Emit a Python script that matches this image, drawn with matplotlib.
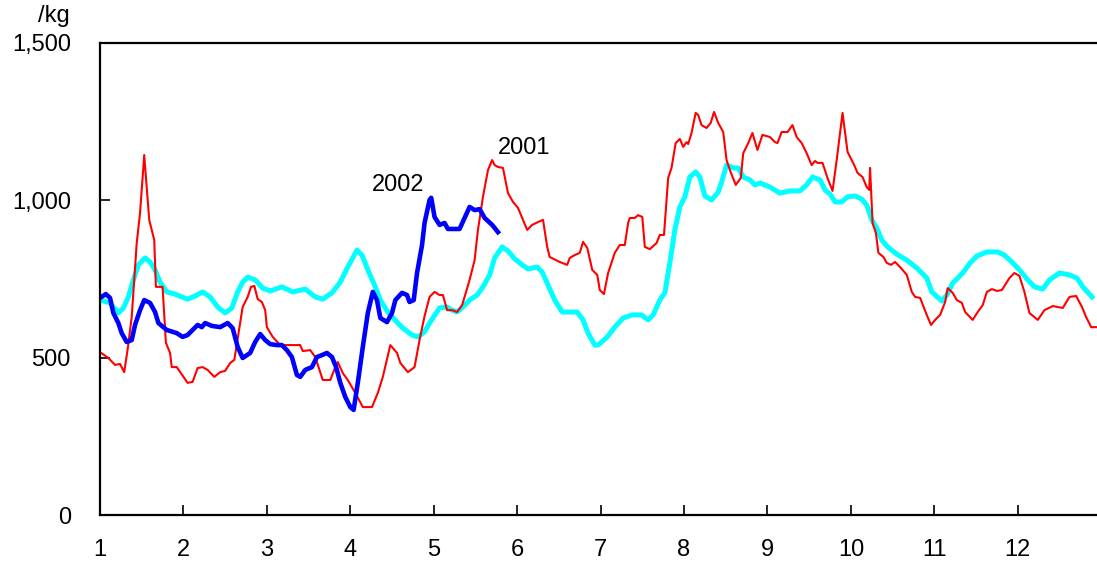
import numpy as np
import matplotlib.pyplot as plt

plt.rcParams['font.family'] = ['Liberation Sans', 'DejaVu Sans']

# month position (1 = start of Jan) and price per kg
m2001 = [1.02, 1.10, 1.18, 1.24, 1.29, 1.33, 1.38, 1.44, 1.48, 1.53, 1.59, 1.65, 1.67, 1.75,
         1.79, 1.84, 1.86, 1.92, 2.05, 2.11, 2.17, 2.23, 2.29, 2.37, 2.44, 2.50, 2.56, 2.61,
         2.71, 2.77, 2.81, 2.85, 2.89, 2.94, 2.98, 3.00, 3.07, 3.16, 3.40, 3.43, 3.52, 3.58,
         3.67, 3.76, 3.82, 3.85, 3.91, 3.97, 4.06, 4.15, 4.26, 4.33, 4.39, 4.48, 4.56, 4.60,
         4.69, 4.77, 4.83, 4.89, 4.95, 5.01, 5.07, 5.11, 5.16, 5.22, 5.28, 5.34, 5.37, 5.43,
         5.49, 5.53, 5.59, 5.65, 5.70, 5.73, 5.77, 5.83, 5.89, 5.95, 6.01, 6.07, 6.12, 6.18,
         6.25, 6.31, 6.36, 6.39, 6.51, 6.60, 6.63, 6.69, 6.75, 6.79, 6.84, 6.90, 6.96, 6.99,
         7.04, 7.09, 7.17, 7.23, 7.29, 7.33, 7.35, 7.41, 7.45, 7.50, 7.53, 7.59, 7.67, 7.71,
         7.76, 7.81, 7.85, 7.90, 7.95, 7.99, 8.03, 8.05, 8.09, 8.14, 8.17, 8.21, 8.27, 8.32,
         8.36, 8.41, 8.47, 8.51, 8.55, 8.62, 8.68, 8.71, 8.77, 8.82, 8.88, 8.94, 9.03, 9.09,
         9.12, 9.17, 9.24, 9.30, 9.35, 9.41, 9.47, 9.53, 9.57, 9.60, 9.66, 9.72, 9.78, 9.83,
         9.90, 9.96, 10.04, 10.08, 10.14, 10.19, 10.22, 10.23, 10.26, 10.30, 10.33, 10.39,
         10.43, 10.48, 10.53, 10.59, 10.67, 10.73, 10.77, 10.83, 10.90, 10.96, 11.01, 11.07,
         11.13, 11.16, 11.22, 11.27, 11.33, 11.37, 11.46, 11.52, 11.58, 11.63, 11.69, 11.75,
         11.81, 11.90, 11.96, 12.02, 12.08, 12.14, 12.24, 12.32, 12.42, 12.48, 12.54, 12.62,
         12.70, 12.77, 12.82, 12.88, 12.95]
p2001 = [514, 499, 477, 480, 454, 524, 629, 864, 960, 1144, 938, 874, 725, 725,
         547, 515, 470, 470, 420, 423, 467, 470, 461, 439, 454, 458, 483, 493,
         661, 693, 725, 728, 686, 677, 651, 597, 566, 540, 540, 521, 524, 502,
         429, 429, 470, 486, 451, 429, 388, 343, 343, 388, 439, 540, 515, 483,
         454, 470, 556, 632, 693, 709, 699, 699, 651, 651, 645, 667, 693, 747,
         810, 906, 1011, 1096, 1128, 1112, 1106, 1103, 1023, 995, 976, 938, 906, 922,
         931, 938, 852, 820, 804, 795, 817, 826, 833, 868, 849, 779, 763, 715,
         702, 769, 833, 858, 858, 928, 944, 944, 953, 947, 852, 845, 864, 890,
         890, 1071, 1103, 1182, 1195, 1170, 1185, 1179, 1214, 1278, 1271, 1239, 1230, 1246,
         1281, 1246, 1217, 1128, 1096, 1049, 1071, 1150, 1182, 1214, 1160, 1208, 1201, 1185,
         1182, 1217, 1217, 1239, 1201, 1182, 1150, 1112, 1125, 1119, 1119, 1071, 1030, 1128,
         1278, 1154, 1112, 1087, 1074, 1042, 1033, 1103, 928, 896, 833, 820,
         801, 795, 804, 788, 763, 709, 693, 690, 642, 604, 620, 636,
         677, 721, 706, 683, 674, 645, 620, 645, 667, 709, 718, 712,
         715, 753, 769, 760, 709, 642, 620, 651, 664, 661, 658, 693,
         696, 661, 629, 597, 597]

m_avg = [1.00, 1.12, 1.22, 1.28, 1.34, 1.40, 1.46, 1.54, 1.60, 1.66, 1.72, 1.80, 1.90, 1.98,
         2.05, 2.14, 2.23, 2.32, 2.41, 2.50, 2.58, 2.65, 2.71, 2.77, 2.86, 2.95, 3.04, 3.18,
         3.31, 3.46, 3.58, 3.67, 3.78, 3.88, 3.97, 4.08, 4.14, 4.21, 4.30, 4.36, 4.45, 4.56,
         4.63, 4.74, 4.81, 4.89, 4.95, 5.07, 5.16, 5.22, 5.28, 5.35, 5.43, 5.52, 5.59, 5.67,
         5.73, 5.82, 5.89, 5.97, 6.06, 6.13, 6.24, 6.30, 6.37, 6.45, 6.54, 6.61, 6.72, 6.79,
         6.85, 6.93, 6.97, 7.08, 7.17, 7.27, 7.38, 7.49, 7.57, 7.63, 7.71, 7.77, 7.83, 7.89,
         7.95, 8.01, 8.07, 8.14, 8.19, 8.25, 8.33, 8.41, 8.45, 8.51, 8.59, 8.65, 8.71, 8.79,
         8.85, 8.91, 9.03, 9.15, 9.27, 9.39, 9.47, 9.54, 9.63, 9.69, 9.75, 9.81, 9.89, 9.96,
         10.05, 10.13, 10.19, 10.25, 10.31, 10.37, 10.44, 10.55, 10.67, 10.79, 10.91, 10.97,
         11.09, 11.15, 11.22, 11.34, 11.43, 11.51, 11.63, 11.76, 11.84, 11.93, 12.02, 12.12,
         12.20, 12.30, 12.38, 12.50, 12.62, 12.71, 12.78, 12.89]
p_avg = [683, 674, 642, 658, 693, 747, 795, 817, 804, 779, 740, 709, 702, 693,
         686, 696, 709, 693, 661, 642, 658, 709, 740, 756, 747, 721, 712, 725,
         709, 718, 693, 686, 706, 740, 788, 842, 826, 779, 725, 683, 645, 613,
         594, 572, 566, 582, 610, 658, 661, 651, 645, 661, 683, 699, 725, 763,
         817, 852, 839, 814, 795, 782, 788, 772, 731, 683, 645, 645, 645, 620,
         578, 540, 540, 566, 597, 626, 636, 636, 620, 636, 683, 706, 801, 906,
         979, 1011, 1074, 1090, 1074, 1014, 1001, 1026, 1058, 1112, 1103, 1103, 1074, 1065,
         1049, 1055, 1042, 1023, 1030, 1030, 1049, 1074, 1065, 1033, 1020, 995, 995, 1011,
         1014, 1004, 985, 938, 912, 874, 852, 829, 810, 785, 753, 709,
         680, 699, 737, 769, 801, 823, 836, 836, 826, 804, 779, 747,
         725, 718, 747, 769, 763, 753, 725, 693]

m2002 = [1.00, 1.07, 1.12, 1.16, 1.22, 1.26, 1.32, 1.38, 1.42, 1.48, 1.53, 1.60, 1.66, 1.70,
         1.80, 1.92, 1.99, 2.05, 2.11, 2.17, 2.22, 2.26, 2.34, 2.44, 2.53, 2.59, 2.65, 2.71,
         2.80, 2.86, 2.92, 2.98, 3.04, 3.12, 3.18, 3.24, 3.30, 3.36, 3.40, 3.46, 3.54, 3.60,
         3.66, 3.72, 3.78, 3.83, 3.88, 3.94, 4.00, 4.04, 4.09, 4.15, 4.21, 4.27, 4.32, 4.36,
         4.44, 4.50, 4.54, 4.62, 4.68, 4.71, 4.76, 4.80, 4.86, 4.89, 4.95, 4.97, 5.01, 5.07,
         5.13, 5.17, 5.23, 5.31, 5.37, 5.43, 5.49, 5.55, 5.61, 5.70, 5.77]
p2002 = [690, 702, 690, 642, 610, 578, 550, 556, 604, 651, 683, 674, 645, 610,
         588, 578, 566, 572, 588, 604, 597, 610, 601, 597, 610, 594, 534, 499,
         515, 550, 575, 556, 543, 540, 540, 524, 502, 445, 439, 461, 470, 502,
         508, 515, 502, 470, 420, 375, 343, 334, 420, 534, 642, 709, 683, 626,
         613, 642, 683, 706, 699, 677, 683, 769, 858, 928, 1001, 1008, 947, 922,
         928, 909, 909, 909, 944, 979, 969, 972, 944, 922, 899]

months = list(range(1, 13))
yticks = [0, 500, 1000, 1500]
ytick_labels = ['0', '500', '1,000', '1,500']

fig = plt.figure(figsize=(10.97, 5.64), dpi=100)
ax = fig.add_axes([100 / 1097, 1 - 515 / 564, 1 - 100 / 1097, 472 / 564])

ax.plot(m_avg, p_avg, color='#00FFFF', linewidth=3.6, solid_joinstyle='round')
ax.plot(m2001, p2001, color='#FF0000', linewidth=1.5)
ax.plot(m2002, p2002, color='#0000FF', linewidth=3.3, solid_joinstyle='round')

ax.text(5.77, 1166, '2001', fontsize=17, ha='left', va='center')
ax.text(4.26, 1049, '2002', fontsize=17, ha='left', va='center')

ax.set_xlim(1, 12.95)
ax.set_ylim(0, 1500)
ax.set_xticks(months)
ax.set_xticklabels([str(m) for m in months])
ax.set_yticks(yticks)
ax.set_yticklabels(ytick_labels)
ax.tick_params(direction='in', length=7, width=1.2, labelsize=17)
ax.tick_params(axis='x', pad=17)
ax.tick_params(axis='y', pad=21)
for side in ['left', 'bottom', 'top']:
    ax.spines[side].set_linewidth(1.6)
ax.spines['right'].set_visible(False)

fig.text(38 / 1097, 1 - 16 / 564, '/kg', fontsize=17, ha='left', va='center')

plt.savefig('out.png', dpi=100)
plt.close()
